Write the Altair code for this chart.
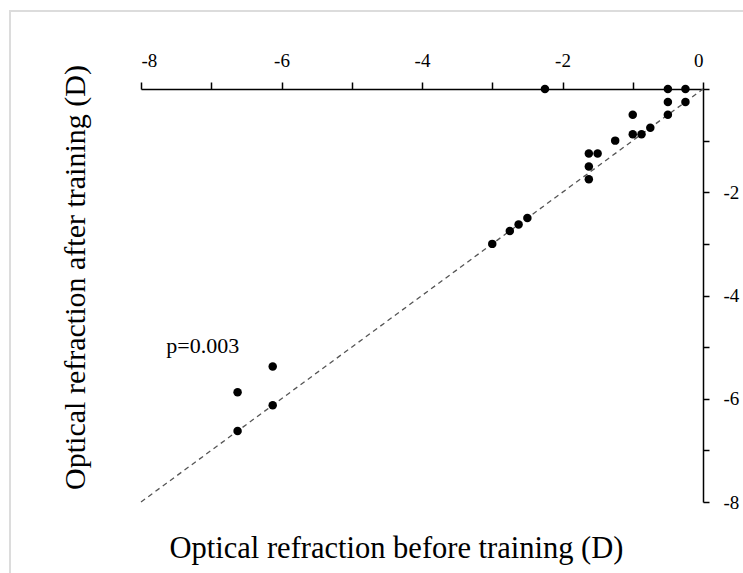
import altair as alt
import pandas as pd

# Data
before = [-2.25, -0.5, -0.25, -0.5, -0.25, -0.5, -1.0, -1.0, -0.875, -0.75, -1.25,
          -1.625, -1.5, -1.625, -1.625, -2.5, -2.625, -2.75, -3.0,
          -6.125, -6.625, -6.125, -6.625]
after = [0.0, 0.0, 0.0, -0.25, -0.25, -0.5, -0.5, -0.875, -0.875, -0.75, -1.0,
         -1.25, -1.25, -1.5, -1.75, -2.5, -2.625, -2.75, -3.0,
         -5.375, -5.875, -6.125, -6.625]
diag_x = [-8, 0]
diag_y = [-8, 0]
tick_values = [-8, -7, -6, -5, -4, -3, -2, -1, 0]
note_text = ["p=0.003"]
note_x = [-7.12]
note_y = [-4.98]

pts = pd.DataFrame({"before": before, "after": after})
diag = pd.DataFrame({"before": diag_x, "after": diag_y})
note = pd.DataFrame({"before": note_x, "after": note_y, "t": note_text})
frame = pd.DataFrame({"k": [0]})

FONT = "Liberation Serif"
W, H = 562, 413

xscale = alt.Scale(domain=[-8, 0], nice=False, zero=False)
yscale = alt.Scale(domain=[-8, 0], nice=False, zero=False)

xaxis = alt.Axis(
    orient="top", values=tick_values,
    labelExpr="datum.value % 2 == 0 ? '' + datum.value : ''",
    title="Optical refraction before training (D)",
    titleX=255, titleY=459, titleAlign="center", titleBaseline="middle",
    titleAngle=0,
    tickSize=7, labelPadding=12, grid=False,
    domainColor="black", tickColor="black", domainWidth=1.5, tickWidth=1.5,
    labelFont=FONT, labelFontSize=19, labelColor="black",
    titleFont=FONT, titleFontSize=30.5, titleFontWeight="normal", titleColor="black",
)
yaxis = alt.Axis(
    orient="right", values=tick_values,
    labelExpr="datum.value % 2 == 0 && datum.value != 0 ? '' + datum.value : ''",
    title="Optical refraction after training (D)",
    titleX=-628, titleY=188, titleAngle=270, titleAlign="center",
    titleBaseline="middle",
    tickSize=6, labelPadding=14, grid=False,
    domainColor="black", tickColor="black", domainWidth=1.5, tickWidth=1.5,
    labelFont=FONT, labelFontSize=19, labelColor="black",
    titleFont=FONT, titleFontSize=30, titleFontWeight="normal", titleColor="black",
)

border = alt.Chart(frame).mark_rect(
    fill=None, stroke="#dcdcdc", strokeWidth=2, clip=False
).encode(
    x=alt.value(-131), x2=alt.value(700), y=alt.value(-78), y2=alt.value(600)
)

line = alt.Chart(diag).mark_line(
    color="#555555", strokeDash=[5, 4], strokeWidth=1.3
).encode(
    x=alt.X("before:Q", scale=xscale, axis=xaxis),
    y=alt.Y("after:Q", scale=yscale, axis=yaxis),
)

points = alt.Chart(pts).mark_circle(size=72, color="black", opacity=1).encode(
    x=alt.X("before:Q", scale=xscale),
    y=alt.Y("after:Q", scale=yscale),
)

text = alt.Chart(note).mark_text(
    font=FONT, fontSize=22, color="black", align="center", baseline="middle"
).encode(
    x=alt.X("before:Q", scale=xscale),
    y=alt.Y("after:Q", scale=yscale),
    text="t:N",
)

chart = alt.layer(border, line, points, text).properties(
    width=W, height=H,
    autosize=alt.AutoSizeParams(type="none"),
    padding={"left": 141, "top": 89, "right": 40, "bottom": 71},
    background="white",
).configure_view(stroke=None)

chart.save("out.html", embed_options={"renderer": "svg", "actions": False})
